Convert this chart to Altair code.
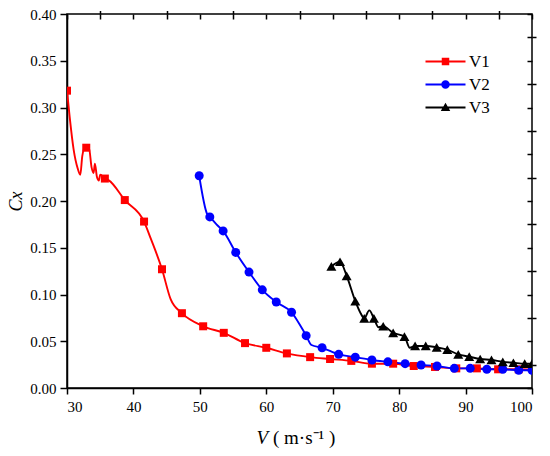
import altair as alt
import pandas as pd

FONT = "Liberation Serif"
SERIES = ["V1", "V2", "V3"]
COLORS = ["#ff0000", "#0000ff", "#000000"]

# ---- line data (smooth curves) ----
V1_LINE_X = [30.0, 30.4, 31.0, 31.6, 32.0, 32.3, 32.7, 33.3, 33.7, 34.0, 34.2, 34.5, 34.8, 35.0,
             35.7, 36.3, 38.7, 41.6, 42.6, 44.3, 45.6, 47.3, 50.5, 53.6, 56.8, 60.0, 63.1, 66.6,
             69.6, 72.8, 75.9, 79.1, 82.2, 85.4, 88.6, 91.7, 94.9, 98.0, 100.0]
V1_LINE_Y = [0.318, 0.290, 0.255, 0.235, 0.228, 0.248, 0.257, 0.257, 0.236, 0.230, 0.240, 0.226,
             0.222, 0.228, 0.224, 0.222, 0.201, 0.178, 0.160, 0.127, 0.095, 0.080, 0.066, 0.059,
             0.048, 0.043, 0.037, 0.033, 0.031, 0.029, 0.026, 0.026, 0.0235, 0.0225, 0.021, 0.021,
             0.020, 0.020, 0.0195]

V2_LINE_X = [49.9, 51.1, 51.5, 52.5, 53.5, 55.4, 57.4, 59.4, 61.5, 63.8, 66.0, 66.8, 68.4, 70.9,
             73.4, 75.9, 78.3, 80.9, 83.3, 85.7, 88.3, 90.7, 93.2, 95.6, 98.0, 100.0]
V2_LINE_Y = [0.227, 0.186, 0.183, 0.175, 0.168, 0.145, 0.124, 0.105, 0.092, 0.081, 0.056, 0.046,
             0.043, 0.036, 0.033, 0.030, 0.028, 0.026, 0.0246, 0.0235, 0.021, 0.021, 0.020, 0.020,
             0.019, 0.019]

V3_LINE_X = [69.8, 71.1, 72.1, 73.4, 74.2, 74.75, 75.5, 76.2, 76.9, 77.6, 79.1, 80.8, 81.6, 82.4,
             84.0, 85.65, 87.25, 88.9, 90.55, 92.2, 93.9, 95.6, 97.2, 98.9, 100.0]
V3_LINE_Y = [0.130, 0.135, 0.120, 0.093, 0.080, 0.0745, 0.083, 0.0745, 0.065, 0.066, 0.059, 0.055,
             0.043, 0.045, 0.045, 0.0435, 0.041, 0.036, 0.0335, 0.031, 0.030, 0.028, 0.027, 0.026,
             0.026]

# ---- marker data ----
V1_MARK_X = [30.0, 32.9, 35.7, 38.7, 41.6, 44.3, 47.3, 50.5, 53.6, 56.8, 60.0, 63.1, 66.6, 69.6,
             72.8, 75.9, 79.1, 82.2, 85.4, 88.6, 91.7, 94.9, 98.0]
V1_MARK_Y = [0.318, 0.257, 0.224, 0.201, 0.178, 0.127, 0.080, 0.066, 0.059, 0.048, 0.043, 0.037,
             0.033, 0.031, 0.029, 0.026, 0.026, 0.0235, 0.0225, 0.021, 0.021, 0.020, 0.020]

V2_MARK_X = [49.9, 51.5, 53.5, 55.4, 57.4, 59.4, 61.5, 63.8, 66.0, 68.4, 70.9, 73.4, 75.9, 78.3,
             80.9, 83.3, 85.7, 88.3, 90.7, 93.2, 95.6, 98.0, 100.0]
V2_MARK_Y = [0.227, 0.183, 0.168, 0.145, 0.124, 0.105, 0.092, 0.081, 0.056, 0.043, 0.036, 0.033,
             0.030, 0.028, 0.026, 0.0246, 0.0235, 0.021, 0.021, 0.020, 0.020, 0.019, 0.019]

V3_MARK_X = [69.8, 71.1, 72.1, 73.4, 74.75, 76.2, 77.6, 79.1, 80.8, 82.4, 84.0, 85.65, 87.25,
             88.9, 90.55, 92.2, 93.9, 95.6, 97.2, 98.9, 100.0]
V3_MARK_Y = [0.130, 0.135, 0.120, 0.093, 0.0745, 0.0745, 0.066, 0.059, 0.055, 0.045, 0.045,
             0.0435, 0.041, 0.036, 0.0335, 0.031, 0.030, 0.028, 0.027, 0.026, 0.026]

X_TICKS = [30, 40, 50, 60, 70, 80, 90, 100]
X_MINOR = [35, 45, 55, 65, 75, 85, 95]
Y_TICKS = [0.0, 0.05, 0.10, 0.15, 0.20, 0.25, 0.30, 0.35, 0.40]
Y_MINOR = [0.025, 0.075, 0.125, 0.175, 0.225, 0.275, 0.325, 0.375]
FRAME_X = [30, 35, 40, 45, 50, 55, 60, 65, 70, 75, 80, 85, 90, 95, 100]
FRAME_Y = [0.0, 0.025, 0.05, 0.075, 0.10, 0.125, 0.15, 0.175, 0.20, 0.225, 0.25, 0.275, 0.30,
           0.325, 0.35, 0.375, 0.40]

# legend symbols: line segment + marker
LEGEND_PATHS = [
    "M-4,-0.18H4V0.18H-4Z M-0.75,-0.75H0.75V0.75H-0.75Z",
    "M-4,-0.18H4V0.18H-4Z M0.85,0A0.85,0.85 0 1,1 -0.85,0A0.85,0.85 0 1,1 0.85,0Z",
    "M-4,-0.18H4V0.18H-4Z M0,-0.95L0.95,0.7L-0.95,0.7Z",
]
MARK_SHAPES = ["square", "circle", "triangle-up"]
MARK_SIZES = [64, 81, 100]


def frame(name, xs, ys):
    return pd.DataFrame({"series": name, "x": xs, "y": ys})


line_df = pd.concat([frame("V1", V1_LINE_X, V1_LINE_Y),
                     frame("V2", V2_LINE_X, V2_LINE_Y),
                     frame("V3", V3_LINE_X, V3_LINE_Y)], ignore_index=True)
mark_dfs = [frame("V1", V1_MARK_X, V1_MARK_Y),
            frame("V2", V2_MARK_X, V2_MARK_Y),
            frame("V3", V3_MARK_X, V3_MARK_Y)]

xs = alt.Scale(domain=[30, 100], nice=False, zero=False)
ys = alt.Scale(domain=[0, 0.4], nice=False, zero=False)
cs = alt.Scale(domain=SERIES, range=COLORS)

legend_props = dict(orient="none", legendX=370, legendY=39, padding=0, title=None,
                    labelFont=FONT, labelFontSize=17, labelColor="black", labelOffset=15,
                    symbolSize=100, symbolStrokeWidth=0, rowPadding=5)
legend_layer = alt.Chart(line_df).mark_point(filled=True, size=100, opacity=1,
                                             clip=True).encode(
    x=alt.value(-2000),
    y=alt.value(-2000),
    color=alt.Color("series:N", scale=cs, legend=alt.Legend(**legend_props)),
    shape=alt.Shape("series:N", scale=alt.Scale(domain=SERIES, range=LEGEND_PATHS),
                    legend=alt.Legend(**legend_props)),
)

lines = alt.Chart(line_df).mark_line(interpolate="monotone", strokeWidth=1.9, clip=True).encode(
    x=alt.X("x:Q", scale=xs, axis=alt.Axis(
        values=X_TICKS, format="d", tickSize=6, tickWidth=1.5, domainWidth=1.5, grid=False,
        labelFont=FONT, labelFontSize=15, labelPadding=5, title=None)),
    y=alt.Y("y:Q", scale=ys, axis=alt.Axis(
        values=Y_TICKS, format=".2f", tickSize=7, tickWidth=1.5, domainWidth=1.5, grid=False,
        labelFont=FONT, labelFontSize=15, labelPadding=4, title="Cx", titleFont=FONT,
        titleFontStyle="italic", titleFontSize=18, titleFontWeight="normal", titlePadding=4)),
    color=alt.Color("series:N", scale=cs, legend=None),
)

marker_layers = []
for df, shp, sz in zip(mark_dfs, MARK_SHAPES, MARK_SIZES):
    marker_layers.append(
        alt.Chart(df).mark_point(shape=shp, size=sz, filled=True, opacity=1, strokeWidth=0,
                                 clip=True).encode(
            x=alt.X("x:Q", scale=xs, axis=None),
            y=alt.Y("y:Q", scale=ys, axis=None),
            color=alt.Color("series:N", scale=cs, legend=None),
        )
    )

minor_axes = alt.Chart(line_df).mark_point(opacity=0).encode(
    x=alt.X("x:Q", scale=xs, axis=alt.Axis(values=X_MINOR, tickSize=3.5, tickWidth=1.5,
                                           grid=False, labels=False, domain=False, title=None)),
    y=alt.Y("y:Q", scale=ys, axis=alt.Axis(values=Y_MINOR, tickSize=4, tickWidth=1.5,
                                           grid=False, labels=False, domain=False, title=None)),
)

frame_axes = alt.Chart(line_df).mark_point(opacity=0).encode(
    x=alt.X("x:Q", scale=xs, axis=alt.Axis(orient="top", values=FRAME_X, tickSize=5,
                                           tickWidth=1.5, offset=-5, labels=False, grid=False,
                                           domain=False, title=None)),
    y=alt.Y("y:Q", scale=ys, axis=alt.Axis(orient="right", values=FRAME_Y, tickSize=5,
                                           tickWidth=1.5, offset=-5, labels=False, grid=False,
                                           domain=False, title=None)),
)

one = pd.DataFrame({"k": [0]})
title_v = alt.Chart(one).mark_text(text="V", font=FONT, fontSize=19, fontStyle="italic",
                                   align="right", baseline="middle", color="black").encode(
    x=alt.value(201), y=alt.value(424))
title_u = alt.Chart(one).mark_text(text="( m·s⁻¹ )", font=FONT, fontSize=19, align="left",
                                   baseline="middle", color="black").encode(
    x=alt.value(206), y=alt.value(424))

chart = alt.layer(legend_layer, lines, *marker_layers, minor_axes, frame_axes, title_v,
                  title_u).resolve_axis(x="independent", y="independent").properties(
    width=465, height=374,
    autosize=alt.AutoSizeParams(type="none"),
    padding={"left": 59, "top": 6, "right": 10, "bottom": 60},
).configure(font=FONT).configure_view(stroke="black", strokeWidth=1.5).configure_axis(
    grid=False, domainColor="black", tickColor="black", labelColor="black",
    labelFont=FONT, titleColor="black",
)

chart.save("out.html", embed_options={"renderer": "svg", "actions": False})
